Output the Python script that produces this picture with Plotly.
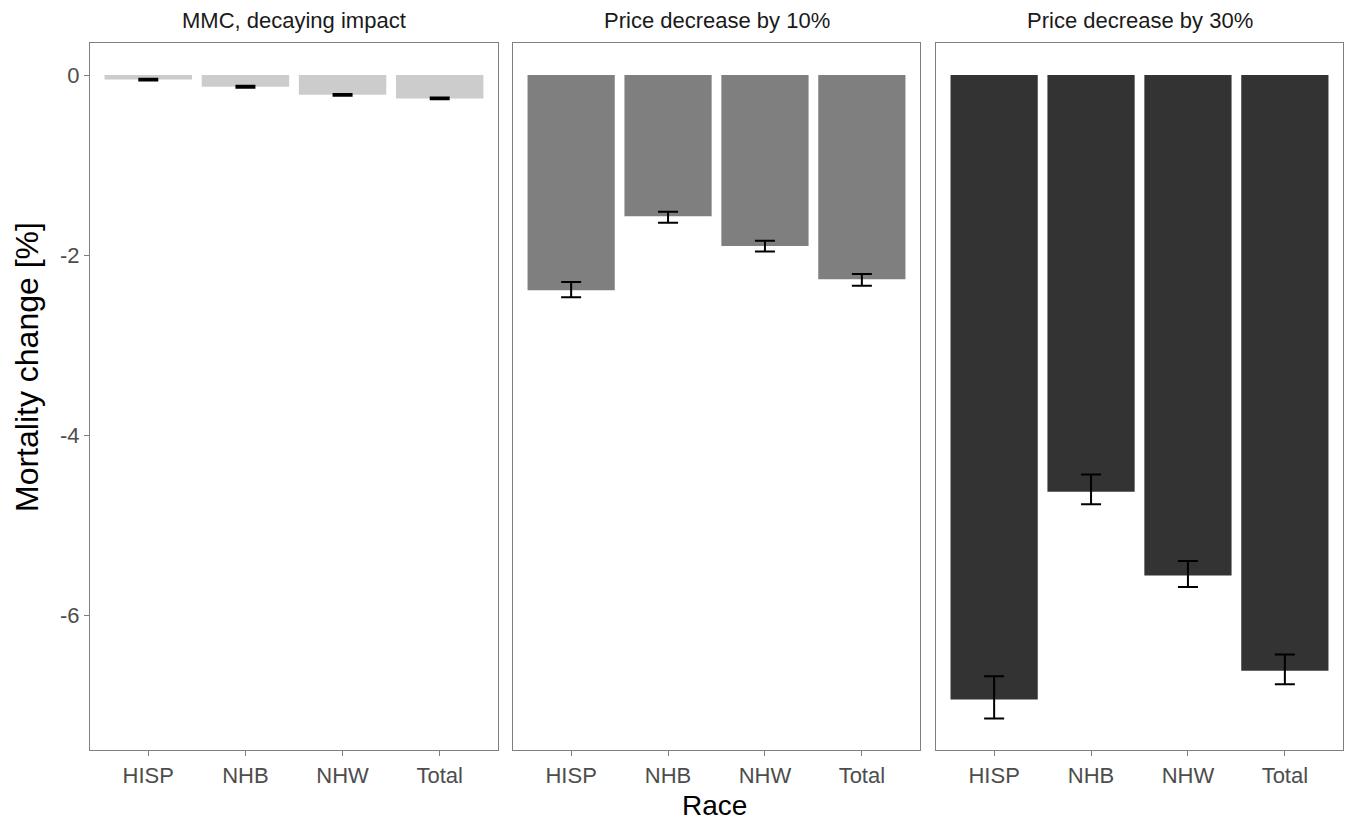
import plotly.graph_objects as go

races = ["HISP", "NHB", "NHW", "Total"]
panel_titles = ["MMC, decaying impact", "Price decrease by 10%", "Price decrease by 30%"]
panel_colors = ["#cccccc", "#7f7f7f", "#333333"]

mmc_vals = [-0.05, -0.13, -0.22, -0.26]
mmc_err_plus = [0.01, 0.01, 0.01, 0.01]
mmc_err_minus = [0.01, 0.01, 0.01, 0.01]

p10_vals = [-2.39, -1.57, -1.90, -2.27]
p10_err_plus = [0.09, 0.05, 0.06, 0.06]
p10_err_minus = [0.08, 0.07, 0.06, 0.07]

p30_vals = [-6.94, -4.63, -5.56, -6.62]
p30_err_plus = [0.26, 0.19, 0.16, 0.18]
p30_err_minus = [0.21, 0.14, 0.13, 0.15]

y_tickvals = [0, -2, -4, -6]
y_ticktext = ["0", "-2", "-4", "-6"]

series = [
    (mmc_vals, mmc_err_plus, mmc_err_minus),
    (p10_vals, p10_err_plus, p10_err_minus),
    (p30_vals, p30_err_plus, p30_err_minus),
]

W, H = 1349, 821
x_domains = [(90 / W, 498 / W), (513 / W, 920 / W), (936 / W, 1343 / W)]
y_domain = (1 - 750 / H, 1 - 43 / H)

FONT = "Liberation Sans, Arial, sans-serif"
fig = go.Figure()
axis_color = "#7f7f7f"
tick_font = dict(family=FONT, size=22, color="#4d4d4d")

for i, ((vals, ep, em), col) in enumerate(zip(series, panel_colors)):
    xa = "x" if i == 0 else f"x{i+1}"
    ya = "y" if i == 0 else f"y{i+1}"
    fig.add_trace(go.Bar(
        x=races, y=vals, marker=dict(color=col, line=dict(width=0)),
        width=0.9, xaxis=xa, yaxis=ya, showlegend=False,
        error_y=dict(type="data", symmetric=False, array=ep, arrayminus=em,
                     color="black", thickness=2, width=10),
    ))
    xkey = "xaxis" if i == 0 else f"xaxis{i+1}"
    ykey = "yaxis" if i == 0 else f"yaxis{i+1}"
    fig.layout[xkey] = dict(
        domain=list(x_domains[i]), anchor=ya, range=[-0.6, 3.6],
        showline=True, mirror=True, linecolor=axis_color, linewidth=1.3,
        ticks="outside", ticklen=5, tickcolor=axis_color, tickwidth=1.3,
        tickfont=tick_font, showgrid=False, zeroline=False, fixedrange=True,
    )
    fig.layout[ykey] = dict(
        domain=list(y_domain), anchor=xa, range=[-7.5, 0.356],
        showline=True, mirror=True, linecolor=axis_color, linewidth=1.3,
        ticks="outside" if i == 0 else "", ticklen=5, tickcolor=axis_color, tickwidth=1.3,
        tickvals=y_tickvals, ticktext=y_ticktext, showticklabels=(i == 0),
        tickfont=tick_font, showgrid=False, zeroline=False, fixedrange=True,
    )
    fig.add_annotation(
        x=(x_domains[i][0] + x_domains[i][1]) / 2, y=1 - 21 / H,
        xref="paper", yref="paper", text=panel_titles[i], showarrow=False,
        font=dict(family=FONT, size=22, color="#1a1a1a"),
        xanchor="center", yanchor="middle",
    )

fig.add_annotation(
    x=(x_domains[0][0] + x_domains[2][1]) / 2 - 2 / W, y=1 - 805 / H, xref="paper", yref="paper",
    text="Race", showarrow=False, xanchor="center", yanchor="middle",
    font=dict(family=FONT, size=28, color="black"),
)
fig.add_annotation(
    x=27 / W, y=1 - 367 / H, xref="paper", yref="paper",
    text="Mortality change [%]", showarrow=False, textangle=-90,
    xanchor="center", yanchor="middle",
    font=dict(family=FONT, size=32, color="black"),
)

fig.update_layout(
    width=W, height=H, margin=dict(l=0, r=0, t=0, b=0),
    plot_bgcolor="white", paper_bgcolor="white", bargap=0.1,
)

fig.write_html(
    "out.html",
    config={"displayModeBar": False},
    post_script="document.body.style.margin='0px';document.body.style.overflow='hidden';",
)
